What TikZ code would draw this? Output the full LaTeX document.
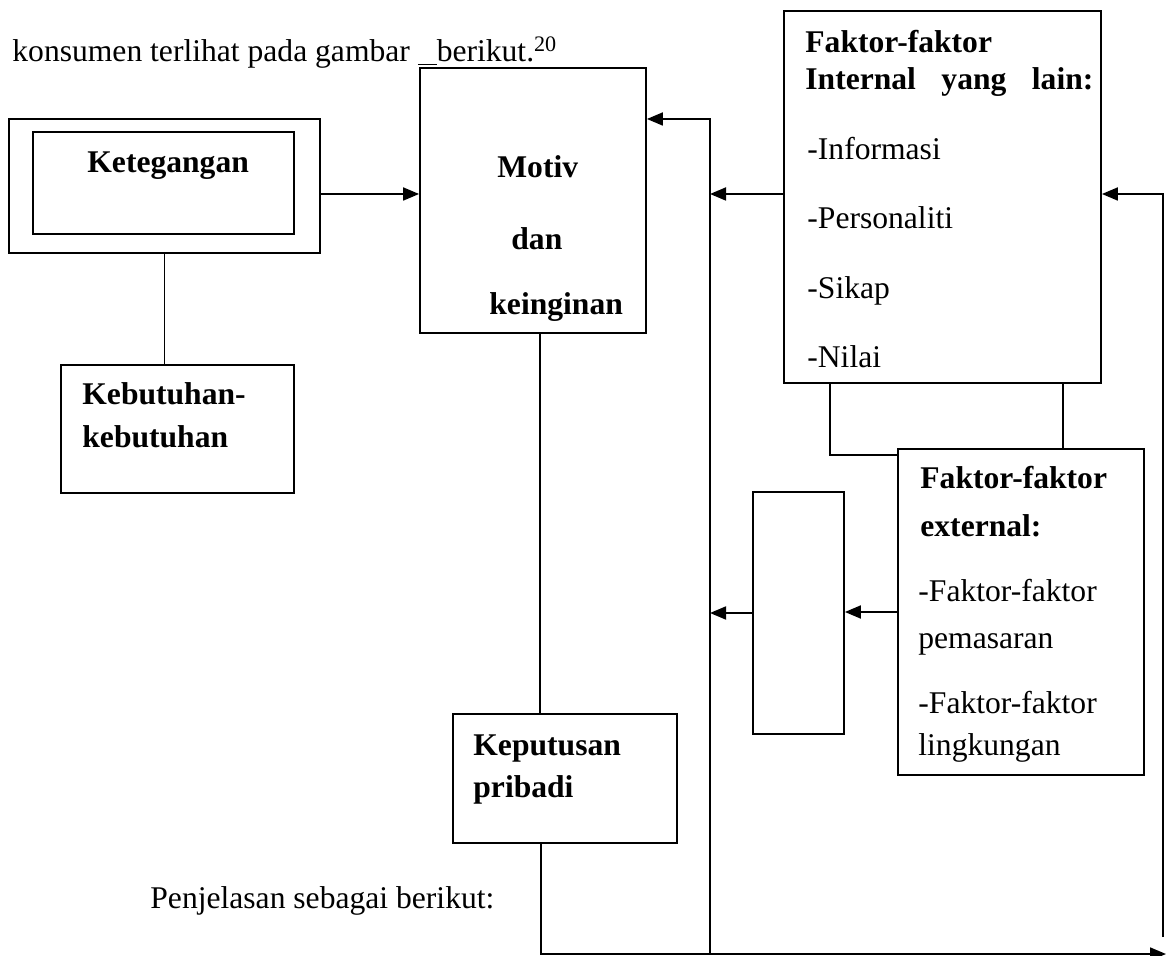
\documentclass[tikz,border=0pt]{standalone}
\usepackage{fontspec}
\setmainfont{Liberation Serif}
\usepackage{tikz}
\usetikzlibrary{positioning,calc,arrows.meta}

\tikzset{
  box/.style={draw, line width=0.9pt, inner sep=0pt},
  arr/.style={line width=0.9pt, -{Triangle[length=8pt,width=6.5pt]}},
  conn/.style={line width=0.9pt},
  txt/.style={anchor=base west, inner sep=0pt, font=\fontsize{15.8}{19}\selectfont},
  lbl/.style={txt, font=\fontsize{15.8}{19}\selectfont\bfseries}
}

\begin{document}
\begin{tikzpicture}[x=0.5pt, y=-0.5pt]
    \useasboundingbox (0,0) rectangle (1167,956);

    % Intro line
    \node[txt] (intro) at (12,62) {konsumen terlihat pada gambar \underline{\hspace{0.6em}}berikut.\textsuperscript{20}};

    % Ketegangan
    \node[box, minimum width=155.5pt, minimum height=67pt] (ketOuter) at (164.5,186) {};
    \node[box, minimum width=130.5pt, minimum height=51pt] (ketInner) at (163.5,183) {};
    \node[lbl] (tKet) at (87,173) {Ketegangan};

    % Kebutuhan
    \node[box, minimum width=116.5pt, minimum height=64pt] (kebutuhan) at (177.5,429) {};
    \node[lbl] (tKeb1) at (82,405) {Kebutuhan-};
    \node[lbl] (tKeb2) at (82,448) {kebutuhan};

    % Motiv dan keinginan
    \node[box, minimum width=113pt, minimum height=132.5pt] (motiv) at (533,200.5) {};
    \node[lbl] (tMot1) at (497,178) {Motiv};
    \node[lbl] (tMot2) at (511,250) {dan};
    \node[lbl] (tMot3) at (489,315) {keinginan};

    % Keputusan pribadi
    \node[box, minimum width=112pt, minimum height=64.5pt] (keputusan) at (565,778.5) {};
    \node[lbl] (tKep1) at (473,755) {Keputusan};
    \node[lbl] (tKep2) at (473,797) {pribadi};

    % Faktor internal
    \node[box, minimum width=158.5pt, minimum height=186pt] (internal) at (942.5,197) {};
    \node[lbl] (tInt1) at (805,53) {Faktor-faktor};
    \node[lbl] (tInt2) at (805,90) {\makebox[144pt][s]{Internal yang lain:}};
    \node[txt] (tInt3) at (807,160) {-Informasi};
    \node[txt] (tInt4) at (807,229) {-Personaliti};
    \node[txt] (tInt5) at (807,299) {-Sikap};
    \node[txt] (tInt6) at (807,368) {-Nilai};

    % Faktor external
    \node[box, minimum width=123pt, minimum height=163pt] (external) at (1021,612) {};
    \node[lbl] (tExt1) at (920,489) {Faktor-faktor};
    \node[lbl] (tExt2) at (920,537) {external:};
    \node[txt] (tExt3) at (918,602) {-Faktor-faktor};
    \node[txt] (tExt4) at (918,648) {pemasaran};
    \node[txt] (tExt5) at (918,713) {-Faktor-faktor};
    \node[txt] (tExt6) at (918,755) {lingkungan};

    % Empty box
    \node[box, minimum width=45.5pt, minimum height=121pt] (small) at (798.5,613) {};

    % Closing text
    \node[txt] (penj) at (150,908) {Penjelasan sebagai berikut:};

    % Free ends
    \coordinate (bus) at (710,954);
    \coordinate (endR) at (1166,954);
    \coordinate (retR) at (1163,937);

    % Connectors
    \draw[conn] (ketOuter.south) -- (ketOuter.south |- kebutuhan.north);
    \draw[arr] ([yshift=-4pt]ketOuter.east) -- ([yshift=-4pt]ketOuter.east -| motiv.west);
    \draw[conn] ([xshift=3.5pt]motiv.south) -- ([xshift=3.5pt]motiv.south |- keputusan.north);
    \draw[arr] ([xshift=-12pt]keputusan.south) |- (endR);
    \draw[arr] (retR) |- ([yshift=1.5pt]internal.east);
    \draw[arr] (bus) |- ([yshift=40.75pt]motiv.east);
    \draw[arr] ([yshift=1.5pt]internal.west) -- ([yshift=1.5pt]internal.west -| bus);
    \draw[arr] (small.west) -- (small.west -| bus);
    \draw[arr] (external.west) -- (external.west -| small.east);
    \draw[conn] ([xshift=23.5pt]internal.south west) |- ([yshift=-3.5pt]external.north west);
    \draw[conn] ([xshift=-19.5pt]internal.south east) -- ([xshift=-19.5pt]internal.south east |- external.north);
\end{tikzpicture}
\end{document}
